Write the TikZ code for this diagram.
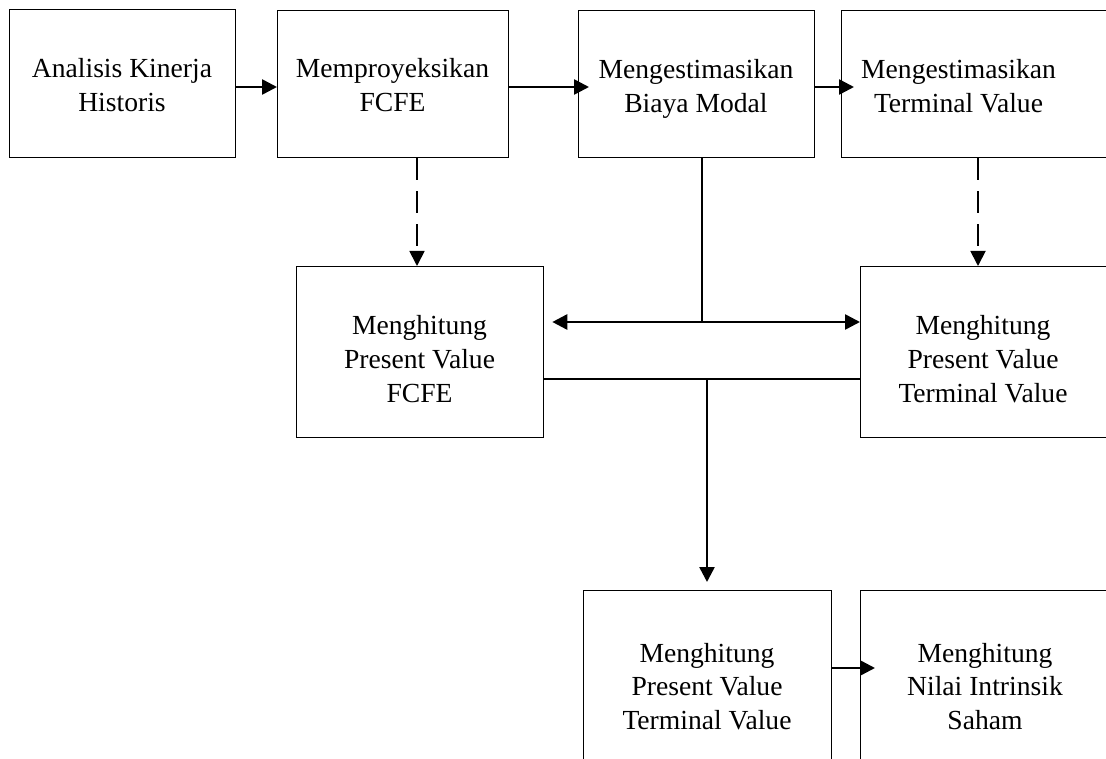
\documentclass[tikz,border=0pt]{standalone}
\usepackage{fontspec}
\setmainfont{Liberation Serif}
\usetikzlibrary{arrows.meta,calc}
\begin{document}
\begin{tikzpicture}[x=1pt,y=-1pt,
  box/.style={draw, line width=1.3pt, rectangle, inner sep=0pt, anchor=north west},
  lbl/.style={anchor=base, inner sep=0pt, font=\fontsize{27.6}{33.5}\selectfont},
  arr/.style={line width=2.6pt, -{Triangle[length=15pt,width=15pt]}},
  dblarr/.style={line width=2.6pt, {Triangle[length=15pt,width=15pt]}-{Triangle[length=15pt,width=15pt]}},
  plain/.style={line width=2.6pt},
  dsh/.style={line width=1.8pt, dash pattern=on 22pt off 11pt, -{Triangle[length=15pt,width=15pt]}}]
\useasboundingbox (0,0) rectangle (1106,759);
\clip (0,0) rectangle (1106,759);
% boxes
\node[box, minimum width=226pt, minimum height=148pt] (b1) at (9,9) {};
\node[box, minimum width=231pt, minimum height=147pt] (b2) at (277,10) {};
\node[box, minimum width=236pt, minimum height=147pt] (b3) at (578,10) {};
\node[box, minimum width=280pt, minimum height=147pt] (b4) at (841,10) {};
\node[box, minimum width=247pt, minimum height=171pt] (b5) at (296,266) {};
\node[box, minimum width=250pt, minimum height=171pt] (b6) at (860,266) {};
\node[box, minimum width=248pt, minimum height=200pt] (b7) at (583,590) {};
\node[box, minimum width=260pt, minimum height=200pt] (b8) at (860,590) {};
% labels
\node[lbl] (t1) at (122,78) {\begin{tabular}[t]{@{}c@{}}Analisis Kinerja\\Historis\end{tabular}};
\node[lbl] (t2) at (392.5,78) {\begin{tabular}[t]{@{}c@{}}Memproyeksikan\\FCFE\end{tabular}};
\node[lbl] (t3) at (696,79) {\begin{tabular}[t]{@{}c@{}}Mengestimasikan\\Biaya Modal\end{tabular}};
\node[lbl] (t4) at (958.5,79) {\begin{tabular}[t]{@{}c@{}}Mengestimasikan\\Terminal Value\end{tabular}};
\node[lbl] (t5) at (419.5,335) {\begin{tabular}[t]{@{}c@{}}Menghitung\\Present Value\\FCFE\end{tabular}};
\node[lbl] (t6) at (983,335) {\begin{tabular}[t]{@{}c@{}}Menghitung\\Present Value\\Terminal Value\end{tabular}};
\node[lbl] (t7) at (707,662) {\begin{tabular}[t]{@{}c@{}}Menghitung\\Present Value\\Terminal Value\end{tabular}};
\node[lbl] (t8) at (985,662) {\begin{tabular}[t]{@{}c@{}}Menghitung\\Nilai Intrinsik\\Saham\end{tabular}};
% connectors
\draw[arr] (b1.east |- 0,87) -- (b2.west |- 0,87);
\draw[arr] (b2.east |- 0,87) -- ($(b3.west |- 0,87)+(11,0)$);
\draw[arr] (b3.east |- 0,87) -- ($(b4.west |- 0,87)+(13,0)$);
\draw[dsh] (b2.south -| 417,0) -- (b5.north -| 417,0);
\draw[dsh] (b4.south -| 978,0) -- (b6.north -| 978,0);
\coordinate (j1) at (702,322);
\draw[plain] (b3.south -| j1) -- (j1);
\draw[dblarr] ($(b5.east |- j1)+(8,0)$) -- (b6.west |- j1);
\coordinate (j2) at (707,379);
\draw[plain] (b5.east |- j2) -- (b6.west |- j2);
\draw[arr] (j2) -- ($(b7.north -| j2)+(0,-8)$);
\draw[arr] (b7.east |- 0,668) -- ($(b8.west |- 0,668)+(15,0)$);
\end{tikzpicture}
\end{document}
